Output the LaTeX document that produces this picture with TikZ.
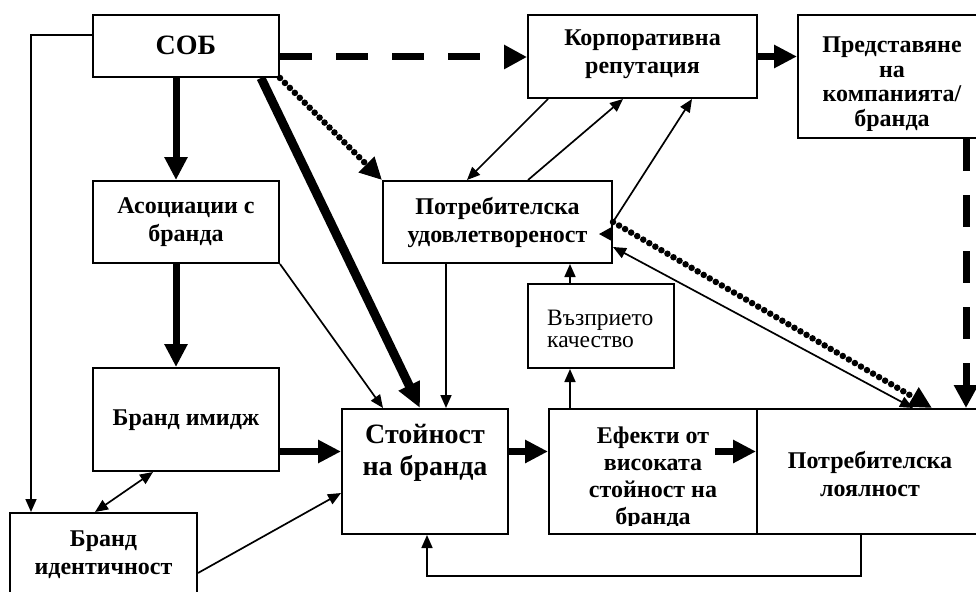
\documentclass[tikz,border=0pt]{standalone}
\usepackage{fontspec}
\setmainfont{Liberation Serif}
\usetikzlibrary{arrows.meta,calc}
\begin{document}
\begin{tikzpicture}[x=1pt,y=-1pt,
  box/.style={draw, line width=2pt, inner sep=0pt},
  lbl/.style={font=\bfseries\fontsize{24}{28}\selectfont, align=center, inner sep=0pt},
  big/.style={font=\bfseries\fontsize{28}{32}\selectfont, align=center, inner sep=0pt},
  reg/.style={font=\fontsize{23.5}{22.5}\selectfont, align=left, inner sep=0pt},
  thinarr/.style={line width=1.7pt, -{Triangle[length=13pt,width=11pt]}},
  thinboth/.style={line width=1.7pt, {Triangle[length=13pt,width=11pt]}-{Triangle[length=13pt,width=11pt]}},
  thickarr/.style={line width=7pt, -{Triangle[length=23pt,width=22pt]}},
  vthickarr/.style={line width=9pt, -{Triangle[length=25pt,width=22pt]}},
  dasharr/.style={line width=7pt, dash pattern=on 32pt off 24pt, -{Triangle[length=23pt,width=23pt]}},
  dotarr/.style={line width=6.5pt, line cap=round, dash pattern=on 0pt off 7pt, -{Triangle[length=22pt,width=21pt]}},
]
\useasboundingbox (0,0) rectangle (976,591);
\fill[white] (0,0) rectangle (976,591);

% boxes
\node[box, minimum width=186pt, minimum height=62pt] (sob) at (186,46) {};
\node[big] (sobT) at (186,45) {СОБ};
\node[box, minimum width=229pt, minimum height=83pt] (corp) at (642.5,56.5) {};
\node[lbl] (corpT) at (642.5,54) {Корпоративна\\репутация};
\node[box, minimum width=188pt, minimum height=123pt] (pres) at (892,76.5) {};
\begin{scope}
  \clip (798,15) rectangle (995,130);
  \node[lbl, font=\bfseries\fontsize{24}{24.5}\selectfont] (presT) at (892,84) {Представяне\\на\\компанията/\\бранда};
\end{scope}
\node[box, minimum width=186pt, minimum height=82pt] (assoc) at (186,222) {};
\node[lbl] (assocT) at (186,222) {Асоциации с\\бранда};
\node[box, minimum width=186pt, minimum height=103pt] (image) at (186,419.5) {};
\node[lbl] (imageT) at (186,420) {Бранд имидж};
\node[box, minimum width=187pt, minimum height=97pt] (ident) at (103.5,561.5) {};
\node[lbl] (identT) at (103.5,555) {Бранд\\идентичност};
\node[box, minimum width=166pt, minimum height=125pt] (value) at (425,471.5) {};
\node[big] (valueT) at (425,453) {Стойност\\на бранда};
\node[box, minimum width=208pt, minimum height=125pt] (eff) at (653,471.5) {};
\begin{scope}
  \clip (549,409) rectangle (757,525);
  \node[lbl, font=\bfseries\fontsize{24}{27}\selectfont] (effT) at (653,478) {Ефекти от\\високата\\стойност на\\бранда};
\end{scope}
\node[box, minimum width=226pt, minimum height=125pt] (loyal) at (870,471.5) {};
\node[lbl] (loyalT) at (870,474) {Потребителска\\лоялност};
\node[box, minimum width=229pt, minimum height=82pt] (sat) at (497.5,222) {};
\node[lbl] (satT) at (497.5,222) {Потребителска\\удовлетвореност};
\node[box, minimum width=146pt, minimum height=84pt] (qual) at (601,326) {};
\node[reg, anchor=west] (qualT) at (547,329) {Възприето\\качество};

% connectors
\draw[thinarr] ([yshift=11pt]sob.west) -| ([xshift=-72.5pt]ident.north);
\draw[thickarr] ([xshift=-10pt]sob.south) -- ([xshift=-10pt]assoc.north);
\draw[thickarr] ([xshift=-10pt]assoc.south) -- ([xshift=-10pt]image.north);
\draw[dasharr] ([yshift=-11pt]sob.east) -- ([yshift=-11pt]sob.east -| corp.west);
\draw[thickarr] (corp.east) -- (corp.east -| pres.west);
\draw[dasharr] ([xshift=74pt]pres.south) -- ([xshift=74pt]pres.south |- loyal.north);
\draw[vthickarr] ([xshift=-19pt]sob.south east) -- ([xshift=-5pt]value.north);
\draw[dotarr] (sob.south east) -- (sat.north west);
\draw[thinarr] (assoc.south east) -- ([xshift=-42pt]value.north);
\draw[thinarr] ([xshift=-51.5pt]sat.south) -- ([xshift=-51.5pt]sat.south |- value.north);
\draw[thickarr] ([yshift=-32pt]image.east) -- ([yshift=-32pt]image.east -| value.west);
\draw[thinboth] ([xshift=-33pt]image.south) -- ([xshift=-8.5pt]ident.north);
\draw[thinarr] ([yshift=-11.5pt]ident.east) -- ([yshift=-21.5pt]value.west);
\draw[thickarr] ([yshift=20pt]value.east) -- ([yshift=20pt]value.east -| eff.west);
\draw[thinarr] ([xshift=-83pt]eff.north) -- ([xshift=-83pt]eff.north |- qual.south);
\draw[thinarr] ([xshift=-31pt]qual.north) -- ([xshift=-31pt]qual.north |- sat.south);
\coordinate (efa) at (715,451.5);
\draw[thickarr] (efa) -- (efa -| loyal.west);
\draw[thinarr] ([xshift=-9pt]loyal.south) -- ++(0,41) -| ([xshift=2pt]value.south);
\draw[thinarr] ([xshift=-94.5pt]corp.south) -- ([xshift=-30.5pt]sat.north);
\draw[thinarr] ([xshift=30.5pt]sat.north) -- ([xshift=-19.5pt]corp.south);
\draw[thinarr] (sat.east) -- ([xshift=49.5pt]corp.south);
\draw[thinboth] ([yshift=-25pt]sat.east) -- ([xshift=43pt]loyal.north);
\draw[dotarr] (sat.east) -- ([xshift=62pt]loyal.north);
\draw[line width=1.5pt, -{Triangle[length=13pt,width=14pt]}] ([yshift=-12pt]sat.east) -- ++(-14,0);
\end{tikzpicture}
\end{document}
